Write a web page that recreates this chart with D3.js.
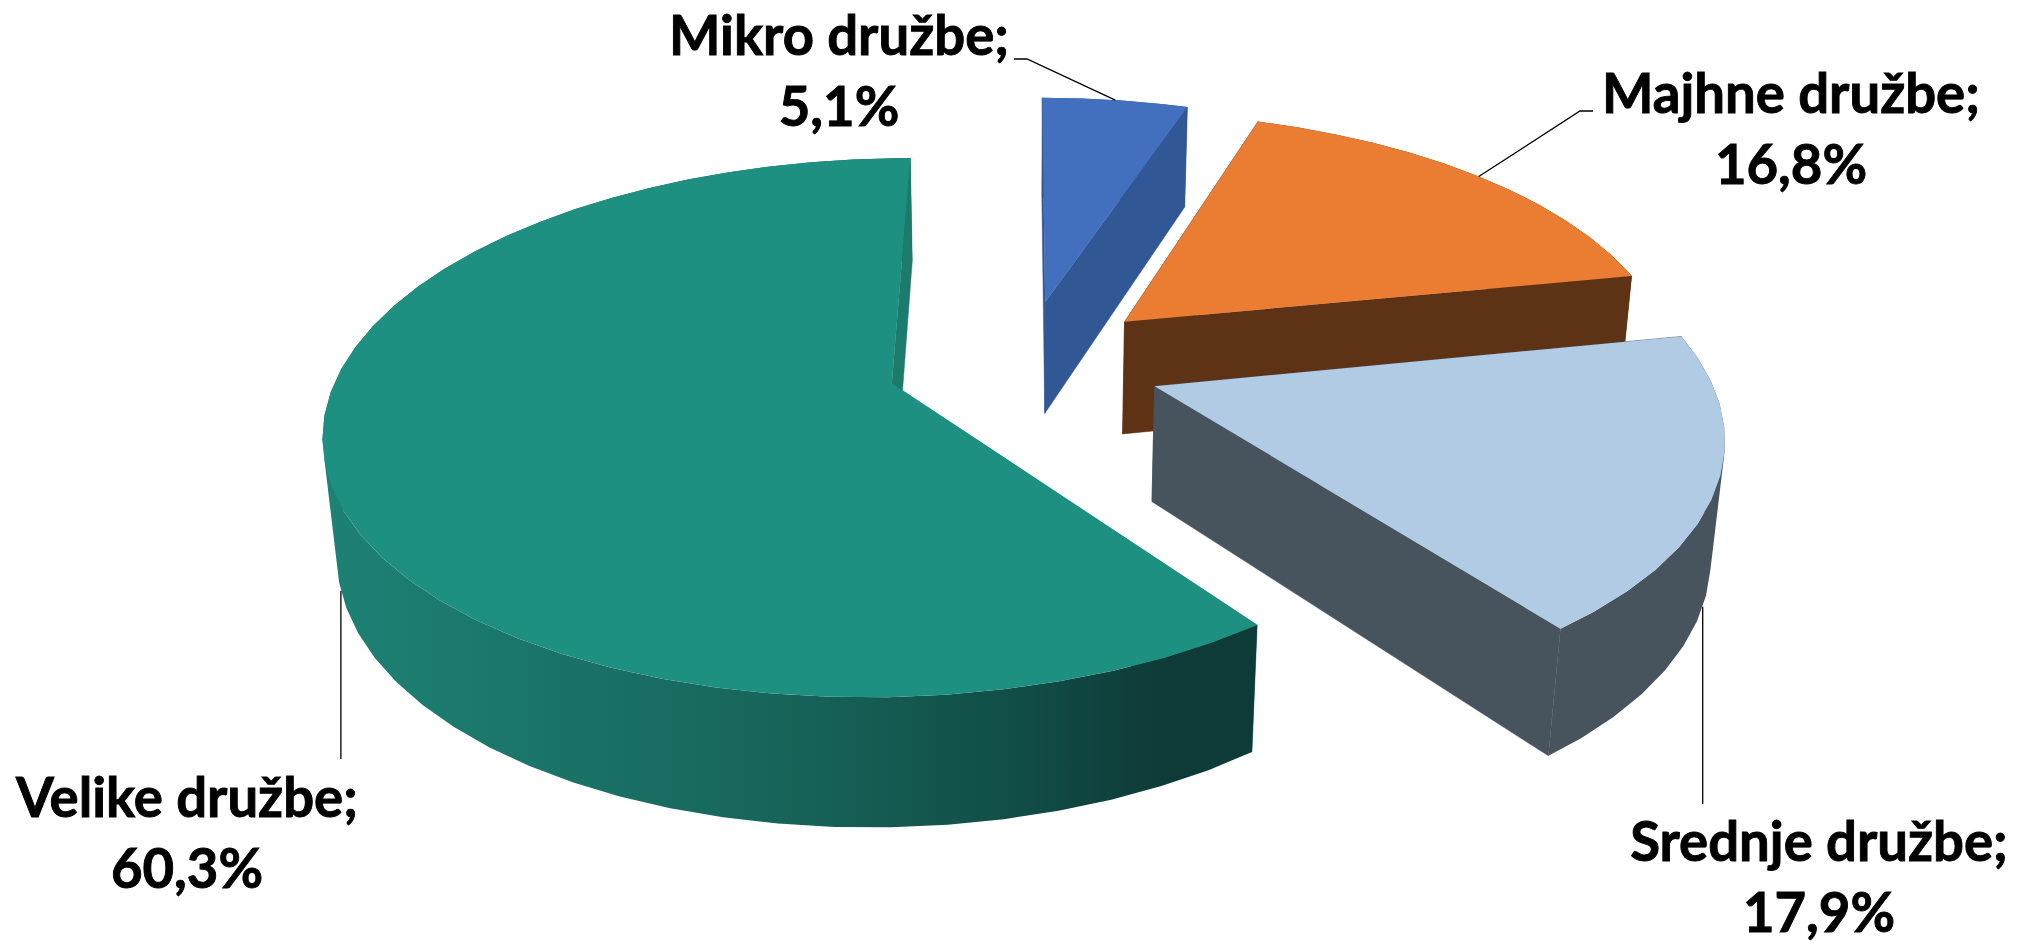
<!DOCTYPE html>
<html>
<head>
<meta charset="utf-8">
<script src="https://cdn.jsdelivr.net/npm/d3@7"></script>
<style>
  html, body { margin: 0; padding: 0; background: #fff; }
  svg { display: block; }
  .lbl { font-family: Lato, "Open Sans", sans-serif; font-weight: 700; font-size: 54.5px; fill: #000; stroke: #000; stroke-width: 0.9px; text-anchor: middle; }
</style>
</head>
<body>
<script>
var categories = ["Mikro družbe", "Majhne družbe", "Srednje družbe", "Velike družbe"];
var shares = [5.1, 16.8, 17.9, 60.3];

var topColors = ["#4270be", "#eb7d32", "#b0cbe3", "#1e9082"];
var wallColors = ["#325795", "#5e3215", "#47535d", "#1c7b6d"];
var rimColors = ["#325795", "#5e3215", "#47535d", "url(#rimTeal)"];

// label block: centre x, first baseline
var labelX = [839, 1791, 1819, 187];
var labelY = [55, 113, 861, 817];
// leader lines: elbow and end for the top two, only the end y for the vertical ones
var leaderEnd = [[[1027, 59], [1014, 59]], [[1580, 111], [1593, 111]], 804, 759];
var leaderOnBase = [0, 0, 1, 1];

var width = 2018, height = 941;

// perspective of the pie: unit radius disc, z = 0 on top, z = 1 at the base
var cam = { x0: 1023, y0: 390, sx: 560, sy: 264.5, depth: 118, k: 0.165, m: 0.02 };
var centre = [0.002, 0.104];
var explode = 0.25;
var step = 5 * Math.PI / 180;

function project(X, Y, Z) {
  var w = 1 + cam.k * Y + cam.m * Z;
  return [cam.x0 + cam.sx * X / w, cam.y0 + (-cam.sy * Y + cam.depth * Z) / w];
}

var pie = d3.pie().sort(null).value(function(d) { return d; });
var arcs = pie(shares);
var line = d3.line();
var pct = d3.formatLocale({ decimal: ",", thousands: ".", grouping: [3], currency: ["", ""] }).format(".1f");

function sliceCentre(a) {
  var mid = (a.startAngle + a.endAngle) / 2;
  return [centre[0] + explode * Math.sin(mid), centre[1] + explode * Math.cos(mid)];
}

function rimPoint(a, angle, z) {
  var c = sliceCentre(a);
  return project(c[0] + Math.sin(angle), c[1] + Math.cos(angle), z);
}

function apex(a, z) {
  var c = sliceCentre(a);
  return project(c[0], c[1], z);
}

function arcPoints(a, z) {
  var angles = d3.range(a.startAngle, a.endAngle, step);
  angles.push(a.endAngle);
  return angles.map(function(t) { return rimPoint(a, t, z); });
}

var svg = d3.select("body").append("svg").attr("width", width).attr("height", height);

var grad = svg.append("defs").append("linearGradient")
  .attr("id", "rimTeal")
  .attr("gradientUnits", "userSpaceOnUse")
  .attr("x1", 320).attr("x2", 1255).attr("y1", 0).attr("y2", 0);
[[0, "#1d8275"], [0.25, "#1a7368"], [0.5, "#176459"], [0.75, "#114d47"], [0.9, "#0e3b38"], [1, "#0e3b38"]].forEach(function(s) {
  grad.append("stop").attr("offset", s[0]).attr("stop-color", s[1]);
});

function drawWall(g, a, t, color) {
  g.append("path")
    .attr("d", line([apex(a, 0), rimPoint(a, t, 0), rimPoint(a, t, 1), apex(a, 1)]) + "Z")
    .attr("fill", color)
    .attr("stroke", color)
    .attr("stroke-width", 0.5);
}

var slices = svg.selectAll("g.slice").data(arcs).enter().append("g").attr("class", "slice");

slices.each(function(a, i) {
  var g = d3.select(this);
  drawWall(g, a, a.startAngle, wallColors[i]);
  // outer wall: one quad per facet, all in a single path and all wound the same way
  var upper = arcPoints(a, 0), lower = arcPoints(a, 1);
  var rim = d3.pairs(d3.range(upper.length)).map(function(p) {
    var quad = [upper[p[0]], upper[p[1]], lower[p[1]], lower[p[0]]];
    if (d3.polygonArea(quad) < 0) quad.reverse();
    return line(quad) + "Z";
  }).join("");
  g.append("path")
    .attr("d", rim)
    .attr("fill", rimColors[i]);
  drawWall(g, a, a.endAngle, wallColors[i]);
  g.append("path")
    .attr("d", line([apex(a, 0)].concat(upper)) + "Z")
    .attr("fill", topColors[i]);
});

svg.selectAll("path.leader").data(arcs).enter().append("path")
  .attr("class", "leader")
  .attr("fill", "none")
  .attr("stroke", "#000")
  .attr("stroke-width", 1.3)
  .attr("d", function(a, i) {
    var mid = (a.startAngle + a.endAngle) / 2;
    var start = rimPoint(a, mid, leaderOnBase[i]);
    var rest = typeof leaderEnd[i] === "number" ? [[start[0], leaderEnd[i]]] : leaderEnd[i];
    return line([start].concat(rest));
  });

var labels = svg.selectAll("text.lbl").data(categories).enter().append("text")
  .attr("class", "lbl")
  .attr("transform", function(d, i) { return "translate(" + labelX[i] + "," + labelY[i] + ")"; });
labels.append("tspan").attr("x", 0).attr("y", 0).text(function(d) { return d + ";"; });
labels.append("tspan").attr("x", 0).attr("y", 71).text(function(d, i) { return pct(shares[i]) + "%"; });
</script>
</body>
</html>
